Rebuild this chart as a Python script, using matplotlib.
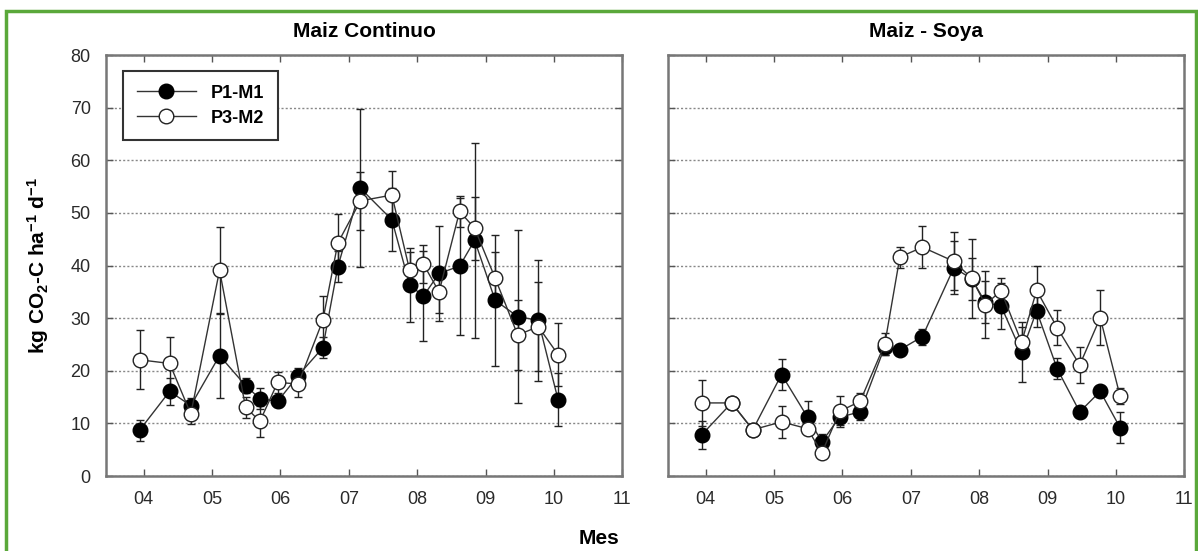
import numpy as np
import matplotlib.pyplot as plt

plt.rcParams['font.family'] = ['Liberation Sans', 'DejaVu Sans']
plt.rcParams['mathtext.fontset'] = 'custom'
plt.rcParams['mathtext.rm'] = 'Liberation Sans:bold'
plt.rcParams['mathtext.bf'] = 'Liberation Sans:bold'
plt.rcParams['mathtext.default'] = 'bf'

# sampling dates (month as decimal)
mes = [3.94, 4.38, 4.69, 5.11, 5.49, 5.70, 5.96, 6.26, 6.62, 6.84, 7.17,
       7.63, 7.89, 8.09, 8.32, 8.62, 8.84, 9.14, 9.47, 9.77, 10.06]

# Maiz Continuo
mc_p1 = [8.7, 16.1, 13.4, 22.9, 17.2, 14.7, 14.2, 19.1, 24.4, 39.8, 54.7,
         48.7, 36.3, 34.2, 38.5, 39.9, 44.8, 33.4, 30.3, 29.6, 14.5]
mc_p1_err = [2.0, 2.5, 1.5, 8.0, 1.5, 2.0, 1.0, 1.5, 2.0, 3.0, 15.0,
             6.0, 7.0, 8.5, 9.0, 13.0, 18.5, 12.5, 16.5, 11.5, 5.0]
mc_p3 = [22.1, 21.4, 11.8, 39.1, 13.1, 10.4, 17.8, 17.5, 29.6, 44.3, 52.3,
         53.4, 39.1, 40.3, 35.0, 50.3, 47.1, 37.6, 26.8, 28.4, 23.1]
mc_p3_err = [5.6, 5.0, 2.0, 8.3, 2.0, 3.0, 2.0, 2.5, 4.6, 5.5, 5.5,
             4.5, 3.5, 3.7, 4.0, 3.0, 6.0, 5.0, 6.6, 8.5, 6.0]

# Maiz - Soya
ms_p1 = [7.8, 13.9, 8.8, 19.3, 11.2, 6.5, 11.2, 12.2, 24.6, 24.0, 26.5,
         39.6, 37.5, 33.0, 32.3, 23.5, 31.4, 20.4, 12.2, 16.1, 9.2]
ms_p1_err = [2.6, 1.0, 1.0, 3.0, 3.0, 1.5, 1.5, 1.5, 1.5, 1.0, 1.5,
             5.0, 4.0, 4.0, 4.4, 5.7, 3.0, 2.0, 1.0, 1.0, 3.0]
ms_p3 = [13.9, 13.9, 8.8, 10.3, 9.0, 4.4, 12.3, 14.2, 25.1, 41.6, 43.5,
         40.8, 37.6, 32.6, 35.2, 25.4, 35.3, 28.2, 21.1, 30.1, 15.2]
ms_p3_err = [4.4, 1.0, 1.0, 3.0, 1.0, 1.0, 3.0, 1.5, 2.0, 2.0, 4.0,
             5.5, 7.5, 6.3, 2.5, 3.0, 4.6, 3.3, 3.5, 5.2, 1.5]

month_ticks = [4, 5, 6, 7, 8, 9, 10, 11]
month_labels = ['04', '05', '06', '07', '08', '09', '10', '11']

fig = plt.figure(figsize=(11.98, 5.51), dpi=100)
ax1 = fig.add_axes([0.0885, 0.136, 0.431, 0.764])
ax2 = fig.add_axes([0.5576, 0.136, 0.431, 0.764])

panels = [(ax1, 'Maiz Continuo', mc_p1, mc_p1_err, mc_p3, mc_p3_err),
          (ax2, 'Maiz - Soya', ms_p1, ms_p1_err, ms_p3, ms_p3_err)]

for ax, title, p1, p1e, p3, p3e in panels:
    ax.errorbar(mes, p3, yerr=p3e, fmt='none', ecolor='#222222', elinewidth=1,
                capsize=3, capthick=1, zorder=2)
    ax.errorbar(mes, p1, yerr=p1e, fmt='none', ecolor='#222222', elinewidth=1,
                capsize=3, capthick=1, zorder=2)
    ax.plot(mes, p1, '-o', color='#333333', lw=1, mfc='black', mec='black',
            ms=10.5, label='P1-M1', zorder=3)
    ax.plot(mes, p3, '-o', color='#333333', lw=1, mfc='white', mec='#222222',
            mew=1, ms=10.5, label='P3-M2', zorder=4)
    ax.set_xlim(3.45, 11.0)
    ax.set_ylim(0, 80)
    ax.set_xticks(month_ticks)
    ax.set_xticklabels(month_labels)
    ax.set_yticks(range(0, 90, 10))
    ax.yaxis.grid(True, linestyle=(0, (1.5, 1.5)), color='#888888', lw=1)
    ax.set_axisbelow(True)
    ax.tick_params(direction='in', top=True, right=True, length=5,
                   width=1, color='#555555', labelsize=13,
                   labelcolor='#2a2a2a')
    ax.tick_params(axis='x', pad=11)
    ax.tick_params(axis='y', pad=11)
    for s in ax.spines.values():
        s.set_color('#777777')
        s.set_linewidth(1.8)
    ax.set_title(title, fontsize=15, fontweight='bold', pad=13)

ax2.tick_params(labelleft=False)
ax1.set_ylabel('kg CO$_2$-C ha$^{-1}$ d$^{-1}$', fontsize=15,
               fontweight='bold', labelpad=14)
fig.text(0.5, 0.012, 'Mes', ha='center', fontsize=15, fontweight='bold')

leg = ax1.legend(loc='upper left', bbox_to_anchor=(0.033, 0.962),
                 borderaxespad=0, prop={'weight': 'bold', 'size': 13},
                 frameon=True, fancybox=False, framealpha=1,
                 handlelength=3.3, borderpad=0.75, labelspacing=0.45)
leg.get_frame().set_edgecolor('#333333')
leg.get_frame().set_linewidth(1.5)

# green frame around the figure
fig.add_artist(plt.Rectangle((0.005, -0.01), 0.993, 0.99, transform=fig.transFigure,
                             fill=False, edgecolor='#5aa83a', lw=2.5))

fig.savefig('out.png', dpi=100)
